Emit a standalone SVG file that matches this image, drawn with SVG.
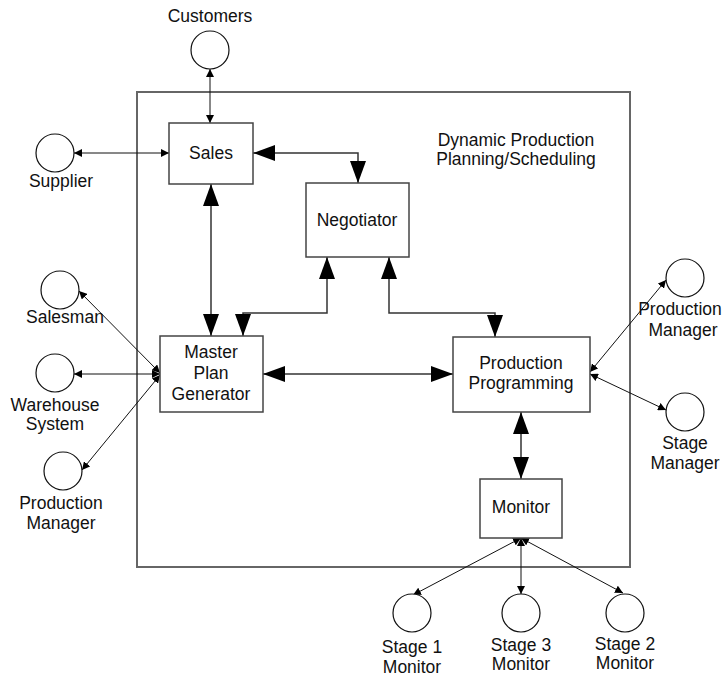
<svg xmlns="http://www.w3.org/2000/svg" width="724" height="679" viewBox="0 0 724 679">
<defs>
<marker id="big" markerUnits="userSpaceOnUse" markerWidth="22" markerHeight="16" refX="22" refY="8" orient="auto-start-reverse" viewBox="0 0 22 16"><path d="M0,0 L22,8 L0,16 z" fill="#000"/></marker>
<marker id="sm" markerUnits="userSpaceOnUse" markerWidth="8" markerHeight="8" refX="8" refY="4" orient="auto-start-reverse" viewBox="0 0 8 8"><path d="M0,0 L8,4 L0,8 z" fill="#000"/></marker>
</defs>
<style>
text{font-family:"Liberation Sans",Arial,sans-serif;font-size:17.5px;fill:#111;text-anchor:middle}
.box{fill:#fff;stroke:#444;stroke-width:1.5}
.ext{fill:#fff;stroke:#111;stroke-width:1.2}
.frame{fill:none;stroke:#666;stroke-width:2}
.c{fill:none;stroke:#333;stroke-width:1.5;marker-start:url(#big);marker-end:url(#big)}
.t{fill:none;stroke:#111;stroke-width:1;marker-start:url(#sm);marker-end:url(#sm)}
</style>
<rect class="frame" x="137" y="92" width="493" height="475"/>
<text x="516" y="146">Dynamic Production</text>
<text x="516" y="165">Planning/Scheduling</text>
<g id="connectors">
<path class="t" d="M210,69 L210,123"/>
<path class="t" d="M74,153 L169,153"/>
<path class="c" d="M253,153 L358,153 L358,183"/>
<path class="c" d="M211,184 L211,336"/>
<path class="c" d="M327,257 L327,313 L243,313 L243,336"/>
<path class="c" d="M389,257 L389,313 L495,313 L495,337"/>
<path class="c" d="M263,374 L453,374"/>
<path class="c" d="M521,412 L521,479"/>
<path class="t" d="M521,538 L413,595"/>
<path class="t" d="M521,538 L521,594"/>
<path class="t" d="M521,538 L623,593"/>
<path class="t" d="M590,372 L666,280"/>
<path class="t" d="M590,374 L666,410"/>
<path class="t" d="M160,373 L79,291"/>
<path class="t" d="M160,374 L74,374"/>
<path class="t" d="M160,375 L82,470"/>
</g>
<g id="sales"><rect class="box" x="169" y="123" width="84" height="61"/><text x="211" y="159">Sales</text></g>
<g id="negotiator"><rect class="box" x="306" y="183" width="103" height="74"/><text x="357" y="226">Negotiator</text></g>
<g id="master"><rect class="box" x="160" y="336" width="103" height="76"/><text x="211" y="358">Master</text><text x="211" y="379">Plan</text><text x="211" y="400">Generator</text></g>
<g id="prodprog"><rect class="box" x="453" y="337" width="137" height="75"/><text x="521" y="369">Production</text><text x="521" y="389">Programming</text></g>
<g id="monitor"><rect class="box" x="480" y="479" width="82" height="59"/><text x="521" y="513">Monitor</text></g>
<g id="customers"><circle class="ext" cx="210" cy="50" r="19"/><text x="210" y="22">Customers</text></g>
<g id="supplier"><circle class="ext" cx="55" cy="153" r="19"/><text x="61" y="187">Supplier</text></g>
<g id="salesman"><circle class="ext" cx="60" cy="290" r="19"/><text x="65" y="323">Salesman</text></g>
<g id="warehouse"><circle class="ext" cx="55" cy="373" r="19"/><text x="55" y="411">Warehouse</text><text x="55" y="430">System</text></g>
<g id="pm-left"><circle class="ext" cx="63" cy="471" r="19"/><text x="61" y="509">Production</text><text x="61" y="529">Manager</text></g>
<g id="pm-right"><circle class="ext" cx="685" cy="278" r="19"/><text x="680" y="315">Production</text><text x="683" y="336">Manager</text></g>
<g id="stage-manager"><circle class="ext" cx="685" cy="412" r="19"/><text x="685" y="449">Stage</text><text x="685" y="469">Manager</text></g>
<g id="stage1"><circle class="ext" cx="412" cy="613" r="19"/><text x="412" y="653">Stage 1</text><text x="412" y="673">Monitor</text></g>
<g id="stage3"><circle class="ext" cx="521" cy="613" r="19"/><text x="521" y="651">Stage 3</text><text x="521" y="670">Monitor</text></g>
<g id="stage2"><circle class="ext" cx="625" cy="613" r="19"/><text x="625" y="650">Stage 2</text><text x="625" y="669">Monitor</text></g>
</svg>
